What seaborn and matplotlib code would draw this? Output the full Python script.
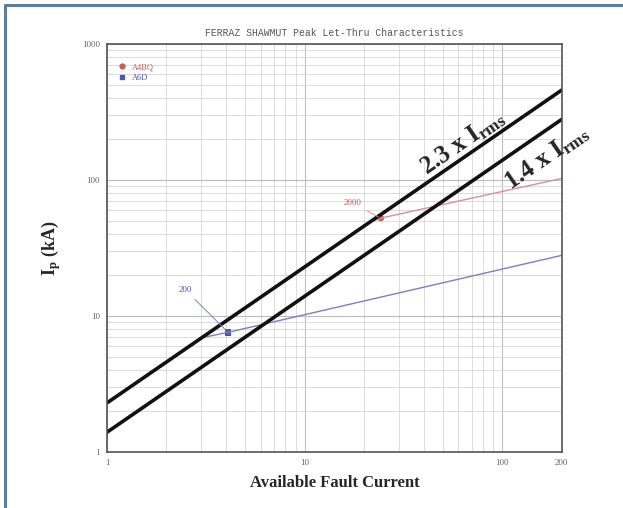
import matplotlib
matplotlib.use("Agg")

import numpy as np
import pandas as pd
import seaborn as sns
import matplotlib.pyplot as plt
from matplotlib.lines import Line2D

# Fault current range (kA) and peak multipliers
fault_range = [1, 200]
mult_high = 2.3
mult_low = 1.4

# Let-thru curves
fuses = ["A4BQ", "A6D"]
ratings = ["2000", "200"]
a4bq_x = [21.5, 24.3, 200]
a4bq_y = [49.5, 52.6, 103]
a6d_x = [3.1, 4.1, 200]
a6d_y = [7.0, 7.6, 28]
# marker points (where the rating label points)
pt_x = [24.3, 4.1]
pt_y = [52.6, 7.6]

colors = {"A4BQ": "#c0605a", "A6D": "#4e58a8"}
line_colors = {"A4BQ": "#d89090", "A6D": "#7a80c4"}

sns.set_style("white")
plt.rcParams["font.family"] = ["Liberation Serif", "DejaVu Serif"]
plt.rcParams["mathtext.fontset"] = "custom"
plt.rcParams["mathtext.rm"] = "Liberation Serif:bold"
plt.rcParams["mathtext.it"] = "Liberation Serif:bold"
plt.rcParams["mathtext.bf"] = "Liberation Serif:bold"

fig = plt.figure(figsize=(6.23, 5.08), dpi=100)
ax = fig.add_axes([0.1717, 0.110, 0.730, 0.803])

curves = pd.DataFrame({
    "current": a4bq_x + a6d_x,
    "peak": a4bq_y + a6d_y,
    "fuse": ["A4BQ"] * len(a4bq_x) + ["A6D"] * len(a6d_x),
})
sns.lineplot(data=curves, x="current", y="peak", hue="fuse", palette=line_colors,
             linewidth=1.0, legend=False, ax=ax, estimator=None, sort=False)

pts = pd.DataFrame({"current": pt_x, "peak": pt_y, "fuse": fuses})
sns.scatterplot(data=pts, x="current", y="peak", hue="fuse", style="fuse",
                markers={"A4BQ": "o", "A6D": "s"}, palette=colors, s=22,
                edgecolor="none", legend=False, ax=ax)

# 2.3 x Irms and 1.4 x Irms reference lines
ref = pd.DataFrame({
    "current": fault_range * 2,
    "peak": [mult_high * v for v in fault_range] + [mult_low * v for v in fault_range],
    "ref": ["high", "high", "low", "low"],
})
sns.lineplot(data=ref, x="current", y="peak", units="ref", estimator=None,
             color="#111111", linewidth=2.6, ax=ax)

ax.set_xscale("log")
ax.set_yscale("log")
ax.set_xlim(1, 200)
ax.set_ylim(1, 1000)

ax.grid(True, which="major", color="#bdbdbd", linewidth=0.8)
ax.grid(True, which="minor", color="#d6d6d6", linewidth=0.6)
ax.tick_params(which="both", length=0, labelsize=6.5, labelcolor="#666666", pad=5)
ax.set_xticks([1, 10, 100, 200])
ax.set_xticklabels(["1", "10", "100", "200"])
ax.set_yticks([1, 10, 100, 1000])
ax.set_yticklabels(["1", "10", "100", "1000"])
for sp in ax.spines.values():
    sp.set_color("#555555")
    sp.set_linewidth(1.2)

ax.set_title("FERRAZ SHAWMUT Peak Let-Thru Characteristics", fontsize=7,
             family=["Liberation Mono", "DejaVu Sans Mono"], color="#555555", pad=6)
ax.set_xlabel("Available Fault Current", fontsize=12, fontweight="bold", labelpad=6)
ax.set_ylabel(r"I$_{\mathrm{p}}$ (kA)", fontsize=13, fontweight="bold", labelpad=14)

# rating annotations
ax.annotate(ratings[0], xy=(pt_x[0], pt_y[0]), xytext=(17.5, 63), fontsize=6.5,
            color=colors["A4BQ"], ha="center", va="bottom",
            arrowprops=dict(arrowstyle="-", color=line_colors["A4BQ"], lw=0.7))
ax.annotate(ratings[1], xy=(pt_x[1], pt_y[1]), xytext=(2.5, 14.5), fontsize=6.5,
            color=colors["A6D"], ha="center", va="bottom",
            arrowprops=dict(arrowstyle="-", color=line_colors["A6D"], lw=0.7))

ax.text(63, 190, r"2.3 x I$_{\mathrm{rms}}$", fontsize=18, fontweight="bold",
        rotation=34.6, ha="center", va="center")
ax.text(168, 148, r"1.4 x I$_{\mathrm{rms}}$", fontsize=18, fontweight="bold",
        rotation=34.6, ha="center", va="center", clip_on=False)

handles = [Line2D([], [], marker="o", linestyle="none", color=colors["A4BQ"], markersize=3.5),
           Line2D([], [], marker="s", linestyle="none", color=colors["A6D"], markersize=3.5)]
ax.legend(handles, fuses, loc="upper left", frameon=False, fontsize=6,
          handletextpad=0.2, labelspacing=0.3, borderaxespad=0.4,
          labelcolor=[colors["A4BQ"], colors["A6D"]], bbox_to_anchor=(0.0, 0.97))

# page frame (top and left edges)
fig.add_artist(Line2D([0.008, 1.0], [0.990, 0.990], transform=fig.transFigure,
                      color="#5b7fa3", linewidth=2.2))
fig.add_artist(Line2D([0.008, 0.008], [0.0, 0.990], transform=fig.transFigure,
                      color="#5b7fa3", linewidth=2.2))

fig.savefig("out.png", dpi=100)
plt.close()
